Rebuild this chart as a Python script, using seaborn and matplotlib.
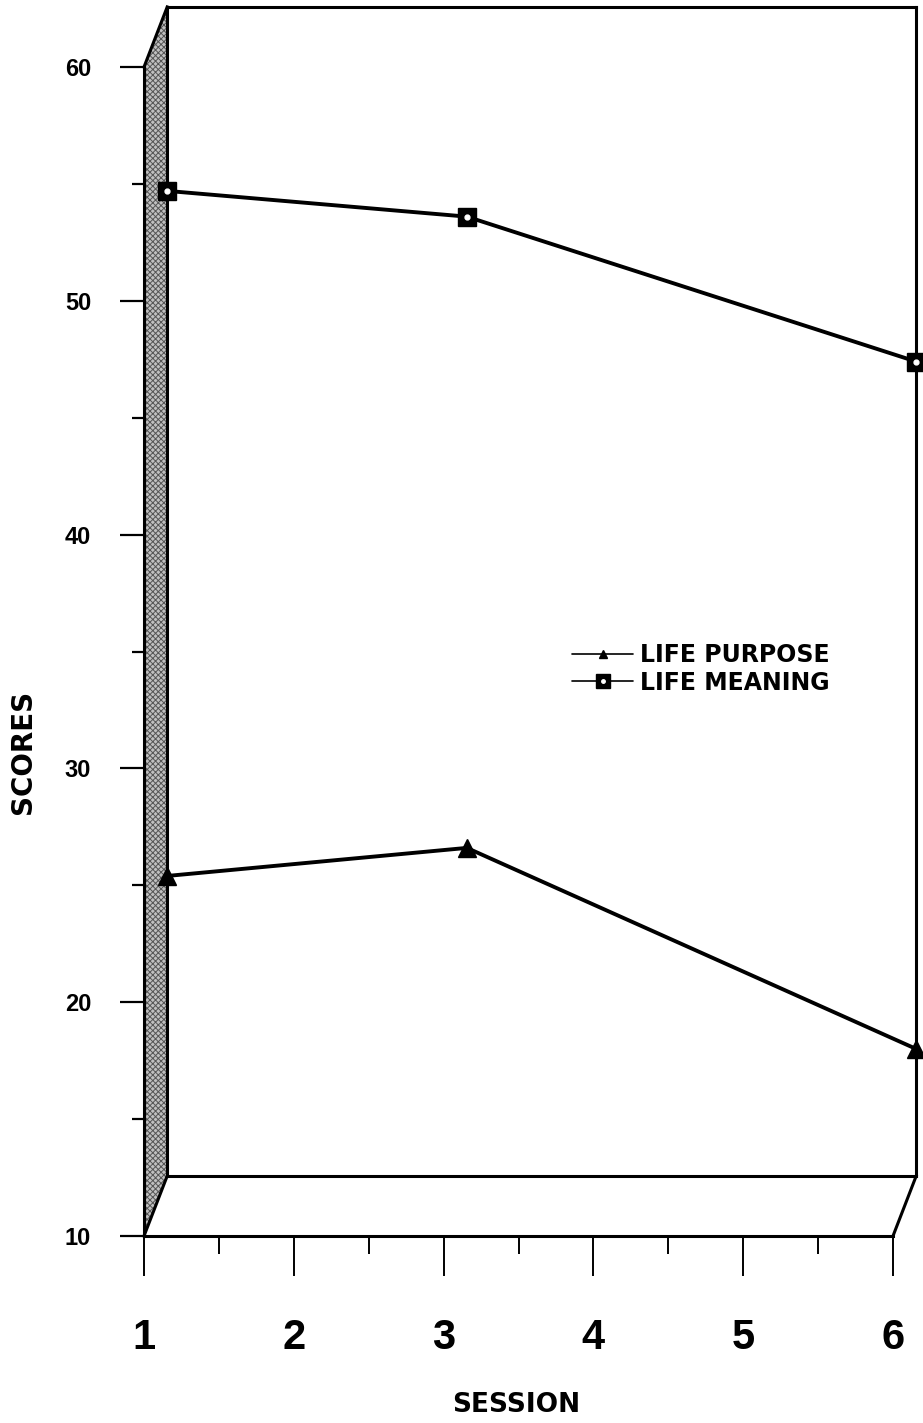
import matplotlib
matplotlib.use("Agg")
import matplotlib.pyplot as plt
import seaborn as sns
import pandas as pd
from matplotlib.patches import Polygon
from matplotlib.lines import Line2D
from matplotlib.legend_handler import HandlerTuple
from matplotlib import font_manager as fm

# ---- data (front-axis scale) ----
sessions = [1, 3, 6]
life_purpose = [25.4, 26.6, 18.0]
life_meaning = [54.7, 53.6, 47.4]
series_names = ["LIFE PURPOSE", "LIFE MEANING"]
x_ticks = [1, 2, 3, 4, 5, 6]
x_minor = [1.5, 2.5, 3.5, 4.5, 5.5]
y_ticks = [10, 20, 30, 40, 50, 60]
y_minor = [15, 25, 35, 45, 55]
x_label = "SESSION"
y_label = "SCORES"

sns.set_theme(style="white")
names = {f.name for f in fm.fontManager.ttflist}
narrow = "Liberation Sans Narrow" if "Liberation Sans Narrow" in names else "Liberation Sans"
plt.rcParams["font.family"] = ["Liberation Sans", "DejaVu Sans"]
plt.rcParams["hatch.linewidth"] = 0.7

fig = plt.figure(figsize=(9.23, 14.23), dpi=100)
ax = fig.add_axes([144 / 923, 1 - 1236 / 1423, 775 / 923, 1230 / 1423])
ax.set_xlim(1, 1 + 775 / 149.8)
ax.set_ylim(10, 10 + 1230 / 23.38)
for s in ax.spines.values():
    s.set_visible(False)

# pseudo-3D depth offset
DX, DY = 0.155, 2.57
X0, X1 = x_ticks[0], x_ticks[-1]
Y0, Y1 = y_ticks[0], y_ticks[-1]

# shaded left wall
wall = Polygon([(X0, Y0), (X0, Y1), (X0 + DX, Y1 + DY), (X0 + DX, Y0 + DY)],
               closed=True, facecolor="#c0c0c0", edgecolor="#555555",
               hatch="xxxxxx", linewidth=0, zorder=1, clip_on=False)
ax.add_patch(wall)

frame_kw = dict(color="black", lw=2.2, clip_on=False, zorder=2,
                solid_capstyle="projecting")
# front edges
ax.plot([X0, X0], [Y0, Y1], **frame_kw)
ax.plot([X0, X1], [Y0, Y0], **frame_kw)
# wall slants
ax.plot([X0, X0 + DX], [Y1, Y1 + DY], **frame_kw)
ax.plot([X0, X0 + DX], [Y0, Y0 + DY], **frame_kw)
# back plane
ax.plot([X0 + DX, X0 + DX], [Y0 + DY, Y1 + DY], **frame_kw)
ax.plot([X0 + DX, X1 + DX], [Y1 + DY, Y1 + DY], **frame_kw)
ax.plot([X1 + DX, X1 + DX], [Y0 + DY, Y1 + DY], **frame_kw)
ax.plot([X0 + DX, X1 + DX], [Y0 + DY, Y0 + DY], **frame_kw)
# floor right slant
ax.plot([X1, X1 + DX], [Y0, Y0 + DY], **frame_kw)

# ---- data lines ----
df = pd.DataFrame({
    "x": [s + DX for s in sessions] * 2,
    "score": life_purpose + life_meaning,
    "series": [series_names[0]] * 3 + [series_names[1]] * 3,
})
sns.lineplot(data=df, x="x", y="score", hue="series",
             palette={series_names[0]: "black", series_names[1]: "black"},
             style="series", dashes=False,
             markers={series_names[0]: "^", series_names[1]: "s"},
             markersize=12.5, markeredgecolor="black", markeredgewidth=1,
             lw=2.8, legend=False, ax=ax, zorder=5, clip_on=False)
ax.plot([s + DX for s in sessions], life_meaning, ls="none", marker="o",
        ms=3.5, color="white", mec="white", zorder=6, clip_on=False)

# ---- ticks ----
ax.set_yticks(y_ticks)
ax.set_yticks(y_minor, minor=True)
ax.set_xticks(x_ticks)
ax.set_xticks(x_minor, minor=True)
ax.tick_params(left=True, bottom=True, which="both", color="black")
ax.tick_params(axis="y", which="major", direction="out", length=17, width=1.6,
               pad=21, labelsize=17, labelcolor="black")
ax.tick_params(axis="y", which="minor", direction="out", length=8.5, width=1.6)
ax.tick_params(axis="x", which="major", direction="out", length=29, width=1.4,
               pad=30, labelsize=30, labelcolor="black")
ax.tick_params(axis="x", which="minor", direction="out", length=13, width=1.4)
for lab in ax.get_yticklabels():
    lab.set_fontweight("bold")
for lab in ax.get_xticklabels():
    lab.set_fontweight("bold")
    lab.set_family([narrow, "DejaVu Sans"])

# ---- axis labels ----
ax.set_xlabel(x_label, fontsize=19, fontweight="bold", color="black",
              family=["DejaVu Sans"])
ax.xaxis.set_label_coords((516 - 144) / 775, (1236 - 1405) / 1230)
ax.xaxis.label.set_verticalalignment("center")
ax.set_ylabel(y_label, fontsize=20, fontweight="bold", color="black",
              family=["DejaVu Sans"])
ax.yaxis.set_label_coords((23 - 144) / 775, (1236 - 752) / 1230)
ax.yaxis.label.set_verticalalignment("center")

# ---- legend ----
h_purpose = Line2D([], [], color="black", lw=1.2, marker="^", ms=6)
h_meaning_sq = Line2D([], [], color="black", lw=1.2, marker="s", ms=10)
h_meaning_dot = Line2D([], [], ls="none", marker="o", ms=2.5, color="white")
leg = ax.legend([h_purpose, (h_meaning_sq, h_meaning_dot)], series_names,
                handler_map={tuple: HandlerTuple(ndivide=1)},
                loc="upper left", bbox_to_anchor=((572 - 144) / 775, (1236 - 643) / 1230),
                frameon=False, borderpad=0, borderaxespad=0, handlelength=2.6,
                handletextpad=0.3, labelspacing=0.15, labelcolor="black",
                prop={"weight": "bold", "size": 17, "family": ["DejaVu Sans"]})

fig.savefig("out.png", dpi=100, facecolor="white")
